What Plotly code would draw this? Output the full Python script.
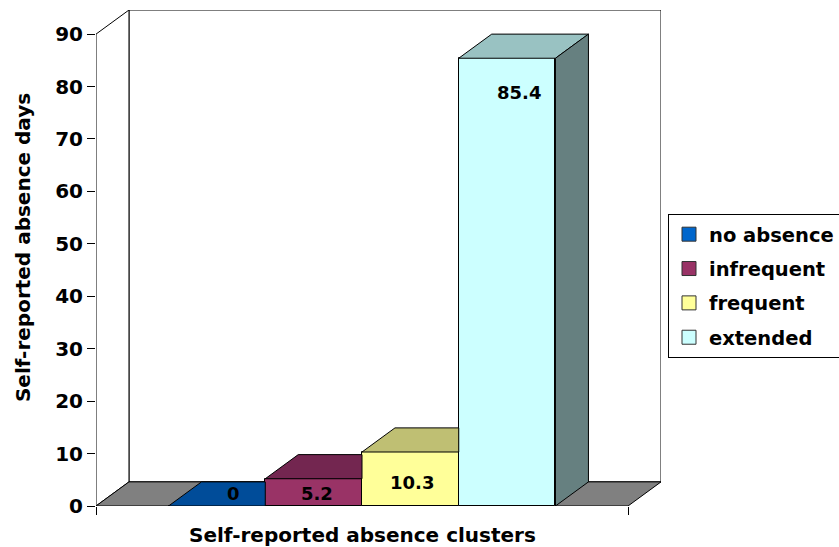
import plotly.graph_objects as go

# ---------------- data ----------------
categories = ["no absence", "infrequent", "frequent", "extended"]
values = [0, 5.2, 10.3, 85.4]
value_labels = ["0", "5.2", "10.3", "85.4"]
y_tick_vals = [0, 10, 20, 30, 40, 50, 60, 70, 80, 90]
x_title = "Self-reported absence clusters"
y_title = "Self-reported absence days"

# ---------------- style ----------------
front_colors = ["#0066CC", "#993366", "#FFFF99", "#CCFFFF"]
top_colors = ["#004C99", "#732650", "#BFBF73", "#99C2C2"]
side_colors = ["#003366", "#4D1A33", "#80804D", "#668080"]
floor_color = "#808080"
label_xshift = [17, 3, 2, 12]
label_yshift = [13, -15, -30, -34]

FONT = dict(family="DejaVu Sans", size=20, color="black", weight="bold")
LEGEND_FONT = dict(family="DejaVu Sans", size=19.5, color="black", weight="bold")

# 3-D box geometry (data units)
XL, XR = -1.25, 4.25      # front floor extent
DX, DY = 0.341, 4.6       # depth offset
YMAX = 90

fig = go.Figure()

# front faces of the bars
fig.add_trace(go.Bar(
    x=list(range(len(values))), y=values, width=1,
    marker=dict(color=front_colors, line=dict(color="black", width=1)),
    showlegend=False, hoverinfo="skip"))

# top & side faces, computed from the values
n = len(values)
for i, v in enumerate(values):
    xl, xr = i - 0.5, i + 0.5
    occluded = i + 1 < n and values[i + 1] >= v + DY
    if occluded:
        tx = [xl, xr, xr, xl + DX, xl]
        ty = [v, v, v + DY, v + DY, v]
    else:
        tx = [xl, xr, xr + DX, xl + DX, xl]
        ty = [v, v, v + DY, v + DY, v]
    fig.add_trace(go.Scatter(x=tx, y=ty, mode="lines", fill="toself",
                             fillcolor=top_colors[i],
                             line=dict(color="black", width=1),
                             showlegend=False, hoverinfo="skip"))
    if not (i + 1 < n and values[i + 1] >= v):
        fig.add_trace(go.Scatter(
            x=[xr, xr + DX, xr + DX, xr, xr],
            y=[0, DY, v + DY, v, 0], mode="lines", fill="toself",
            fillcolor=side_colors[i], line=dict(color="black", width=1),
            showlegend=False, hoverinfo="skip"))

# legend entries
for i, c in enumerate(categories):
    fig.add_trace(go.Scatter(
        x=[None], y=[None], mode="markers", name=c, legendgroup=c,
        marker=dict(symbol="square", size=14, color=front_colors[i],
                    line=dict(color="#333333", width=1))))

# frame: back wall, left wall, floor
shapes = [
    dict(type="path", layer="below", xref="x", yref="y",
         path=f"M{XL+DX},{DY} L{XR+DX},{DY} L{XR+DX},{YMAX+DY} L{XL+DX},{YMAX+DY} Z",
         fillcolor="white", line=dict(color="black", width=1)),
    dict(type="path", layer="below", xref="x", yref="y",
         path=f"M{XL},0 L{XL},{YMAX} L{XL+DX},{YMAX+DY} L{XL+DX},{DY} Z",
         fillcolor="white", line=dict(color="black", width=1)),
    dict(type="path", layer="below", xref="x", yref="y",
         path=f"M{XL},0 L{XR},0 L{XR+DX},{DY} L{XL+DX},{DY} Z",
         fillcolor=floor_color, line=dict(color="black", width=1)),
]

annotations = []
for i, (v, t) in enumerate(zip(values, value_labels)):
    annotations.append(dict(x=i, y=v, xref="x", yref="y", text=t,
                            showarrow=False, xanchor="center", yanchor="middle",
                            xshift=label_xshift[i], yshift=label_yshift[i],
                            font=dict(family="DejaVu Sans", size=18,
                                      color="black", weight="bold")))
annotations.append(dict(x=(XL + XR) / 2, y=0, xref="x", yref="y",
                        yshift=-29, text=x_title, showarrow=False,
                        xanchor="center", yanchor="middle", font=FONT))
annotations.append(dict(x=-96 / 565, xref="paper", y=0.52, yref="paper",
                        xshift=23, text=y_title, showarrow=False, textangle=-90,
                        xanchor="center", yanchor="middle", font=FONT))

fig.update_layout(
    width=839, height=547,
    margin=dict(l=96, r=178, t=10, b=41, autoexpand=False),
    paper_bgcolor="white", plot_bgcolor="white",
    font=FONT,
    shapes=shapes, annotations=annotations,
    showlegend=True,
    legend=dict(x=(668 - 96) / 565, xanchor="left", y=(506 - 214) / 496,
                yanchor="top", bordercolor="black", borderwidth=1,
                bgcolor="white", tracegroupgap=6,
                font=LEGEND_FONT),
    xaxis=dict(range=[XL, XR + DX], showgrid=False, zeroline=False,
               showline=False, tickvals=[XL, XR], ticktext=["", ""],
               ticks="outside", ticklen=8, tickcolor="black"),
    yaxis=dict(range=[0, YMAX + DY], showgrid=False, zeroline=False,
               showline=False, tickvals=y_tick_vals, ticks="outside",
               ticklen=8, tickcolor="black", tickfont=FONT),
    bargap=0,
)

fig.write_html("out.html")
